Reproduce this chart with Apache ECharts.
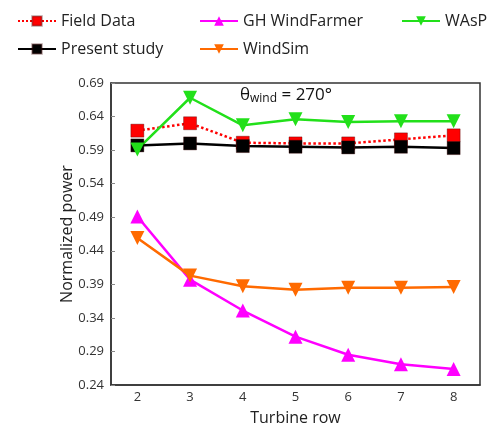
<!DOCTYPE html>
<html><head><meta charset="utf-8">
<script src="https://cdn.jsdelivr.net/npm/echarts@6/dist/echarts.min.js"></script>
<style>html,body{margin:0;padding:0;background:#fff}#c{width:491px;height:424px}</style>
</head><body><div id="c"></div>
<script>
const rows = ['2','3','4','5','6','7','8'];
const fieldData = [0.619, 0.630, 0.601, 0.600, 0.600, 0.606, 0.612];
const presentStudy = [0.597, 0.600, 0.596, 0.595, 0.594, 0.595, 0.593];
const ghWindFarmer = [0.491, 0.397, 0.351, 0.312, 0.285, 0.271, 0.264];
const windSim = [0.459, 0.403, 0.387, 0.382, 0.385, 0.385, 0.386];
const wasp = [0.591, 0.668, 0.627, 0.636, 0.632, 0.633, 0.633];
const yMin = 0.24, yMax = 0.69, yStep = 0.05;

const font = '"Open Sans", "Liberation Sans", sans-serif';
const chart = echarts.init(document.getElementById('c'), null, {renderer: 'canvas'});
function s(name, data, color, symbol, rot, lineType) {
  return {
    name, type: 'line', data, symbol, symbolRotate: rot,
    symbolSize: symbol === 'rect' ? 13 : 14,
    lineStyle: {color, width: 2.5, type: lineType || 'solid'},
    itemStyle: {color, borderColor: symbol === 'rect' ? 'rgba(60,0,0,0.35)' : color, borderWidth: symbol === 'rect' ? 1 : 0},
    z: 3
  };
}
const legendCommon = {orient: 'vertical', itemWidth: 38, itemHeight: 12, itemGap: 12,
  textStyle: {fontFamily: font, fontSize: 16, color: '#222'}};
chart.setOption({
  animation: false,
  backgroundColor: '#fff',
  textStyle: {fontFamily: font},
  title: {
    text: '{a|θ}{b|wind}{a| = 270°}', left: 235, top: 80,
    textStyle: {fontWeight: 'normal', rich: {a: {fontSize: 17, color: '#111', fontFamily: font, fontWeight: 'normal'}, b: {fontSize: 12, color: '#111', fontFamily: font, fontWeight: 'normal', verticalAlign: 'bottom', padding: [8,0,0,0]}}}
  },
  legend: [
    Object.assign({}, legendCommon, {left: 12, top: 8, data: ['Field Data', 'Present study']}),
    Object.assign({}, legendCommon, {left: 194, top: 8, data: ['GH WindFarmer', 'WindSim']}),
    Object.assign({}, legendCommon, {left: 396, top: 8, data: ['WAsP']})
  ],
  grid: {left: 111, right: 11, top: 83, bottom: 39, containLabel: false, outerBoundsMode: 'none', show: true, borderColor: '#333', borderWidth: 1.5, backgroundColor: 'transparent'},
  xAxis: {
    type: 'category', data: rows, boundaryGap: true,
    name: 'Turbine row', nameLocation: 'middle', nameGap: 25, nameMoveOverlap: false,
    nameTextStyle: {fontFamily: font, fontSize: 16, color: '#222', verticalAlign: 'top'},
    axisLine: {lineStyle: {color: '#333', width: 1.5}},
    axisTick: {inside: true, alignWithLabel: true, length: 4, lineStyle: {color: '#888'}},
    axisLabel: {fontFamily: font, fontSize: 13, color: '#333', margin: 6},
    splitLine: {show: false}
  },
  yAxis: {
    type: 'value', min: yMin, max: yMax, interval: yStep,
    name: 'Normalized power', nameLocation: 'middle', nameGap: 36, nameMoveOverlap: false,
    nameTextStyle: {fontFamily: font, fontSize: 16, color: '#222'},
    axisLine: {show: true, lineStyle: {color: '#333', width: 1.5}},
    axisTick: {show: true, inside: true, length: 4, lineStyle: {color: '#888'}},
    axisLabel: {fontFamily: font, fontSize: 13, color: '#333', margin: 7, formatter: v => v.toFixed(2)},
    splitLine: {show: false}
  },
  series: [
    s('Field Data', fieldData, '#ff0000', 'rect', 0, 'dotted'),
    s('Present study', presentStudy, '#000000', 'rect', 0),
    s('GH WindFarmer', ghWindFarmer, '#ff00ff', 'triangle', 0),
    s('WindSim', windSim, '#ff6a00', 'triangle', 180),
    s('WAsP', wasp, '#22e01a', 'triangle', 180)
  ]
});
</script></body></html>
